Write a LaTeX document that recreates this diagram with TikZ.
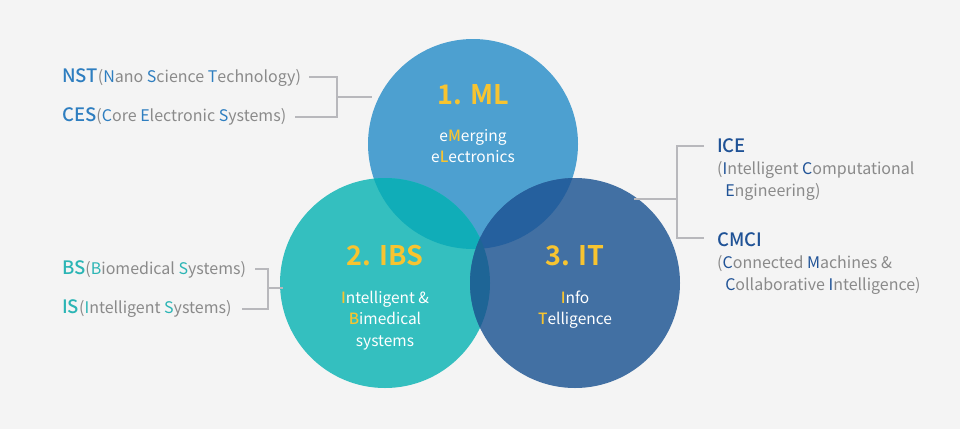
\documentclass[tikz,border=0pt]{standalone}
\usepackage{fontspec}
\setmainfont{Noto Sans CJK KR}[BoldFont={Noto Sans CJK KR Bold}]
\newfontfamily\medfont{Noto Sans CJK KR Medium}
\definecolor{bg}{HTML}{F4F4F4}
\definecolor{cML}{HTML}{4DA0D0}
\definecolor{cIBS}{HTML}{34BFBF}
\definecolor{cIT}{HTML}{4270A3}
\definecolor{cMLIBS}{HTML}{10ADB8}
\definecolor{cMLIT}{HTML}{25609E}
\definecolor{cIBSIT}{HTML}{1E6596}
\definecolor{ylw}{HTML}{F7C430}
\definecolor{gtxt}{HTML}{8A8A8A}
\definecolor{bML}{HTML}{2E7EC0}
\definecolor{bIBS}{HTML}{2BB5B5}
\definecolor{bIT}{HTML}{1F5296}
\definecolor{lnc}{HTML}{B8B8BC}
\tikzset{
  title/.style={font=\bfseries\fontsize{27}{30}\selectfont, text=ylw, anchor=base, inner sep=0pt},
  intext/.style={font=\fontsize{15.5}{18}\selectfont, text=white, anchor=base, inner sep=0pt},
  side/.style={font=\fontsize{16}{19}\selectfont, text=gtxt, anchor=base west, inner sep=0pt},
  conn/.style={draw=lnc, line width=1.6pt},
}
\newcommand{\Y}[1]{\textcolor{ylw}{\medfont #1}}
\newcommand{\abbr}[2]{\textcolor{#1}{\medfont\fontsize{18.5}{20}\selectfont #2}}
\begin{document}
\begin{tikzpicture}[x=1pt,y=-1pt]
\fill[bg] (0,0) rectangle (960,429);
\useasboundingbox (0,0) rectangle (960,429);
% circles
\coordinate (cm) at (473,144);
\coordinate (cb) at (385,283);
\coordinate (ct) at (575,283);
\fill[cML] (cm) circle (105pt);
\fill[cIBS] (cb) circle (105pt);
\fill[cIT] (ct) circle (105pt);
\begin{scope}
  \clip (cm) circle (105pt);
  \fill[cMLIBS] (cb) circle (105pt);
  \fill[cMLIT] (ct) circle (105pt);
\end{scope}
\begin{scope}
  \clip (cb) circle (105pt);
  \fill[cIBSIT] (ct) circle (105pt);
\end{scope}
% circle texts
\node[title] (t1) at (473,104) {1. ML};
\node[intext] (t1a) at (473,141) {e\Y{M}erging};
\node[intext] (t1b) at (473,162) {e\Y{L}ectronics};
\node[title] (t2) at (385,265) {2. IBS};
\node[intext] (t2a) at (385,303) {\Y{I}ntelligent \&};
\node[intext] (t2b) at (385,324) {\Y{B}imedical};
\node[intext] (t2c) at (385,346) {systems};
\node[title] (t3) at (575,265) {3. IT};
\node[intext] (t3a) at (575,303) {\Y{I}nfo};
\node[intext] (t3b) at (575,324) {\Y{T}elligence};
% left ML labels
\node[side] (nst) at (62,82) {\abbr{bML}{NST}(\textcolor{bML}{N}ano \textcolor{bML}{S}cience \textcolor{bML}{T}echnology)};
\node[side] (ces) at (62,121) {\abbr{bML}{CES}(\textcolor{bML}{C}ore \textcolor{bML}{E}lectronic \textcolor{bML}{S}ystems)};
\coordinate (nstR) at (309,77);
\coordinate (cesR) at (295,117);
\coordinate (mlJ) at (337,97);
\coordinate (mlE) at (372,97);
\draw[conn] (nstR) -- (nstR -| mlJ) -- (cesR -| mlJ) -- (cesR);
\draw[conn] (mlJ) -- (mlE);
% left IBS labels
\node[side] (bs) at (62,274) {\abbr{bIBS}{BS}(\textcolor{bIBS}{B}iomedical \textcolor{bIBS}{S}ystems)};
\node[side] (is) at (62,313) {\abbr{bIBS}{IS}(\textcolor{bIBS}{I}ntelligent \textcolor{bIBS}{S}ystems)};
\coordinate (bsR) at (255,269);
\coordinate (isR) at (242,309);
\coordinate (ibJ) at (268,288);
\coordinate (ibE) at (283,288);
\draw[conn] (bsR) -- (bsR -| ibJ) -- (isR -| ibJ) -- (isR);
\draw[conn] (ibJ) -- (ibE);
% right IT labels
\node[side] (ice) at (717,152) {\abbr{bIT}{ICE}};
\node[side] (ice2) at (717,174) {(\textcolor{bIT}{I}ntelligent \textcolor{bIT}{C}omputational};
\node[side] (ice3) at (717,196) {\phantom{(}\,\textcolor{bIT}{E}ngineering)};
\node[side] (cmci) at (717,246) {\abbr{bIT}{CMCI}};
\node[side] (cmci2) at (717,268) {(\textcolor{bIT}{C}onnected \textcolor{bIT}{M}achines \&};
\node[side] (cmci3) at (717,290) {\phantom{(}\,\textcolor{bIT}{C}ollaborative \textcolor{bIT}{I}ntelligence)};
\coordinate (iceL) at (704,146);
\coordinate (cmciL) at (704,238);
\coordinate (itJ) at (677,199);
\coordinate (itE) at (634,199);
\draw[conn] (iceL) -- (iceL -| itJ) -- (cmciL -| itJ) -- (cmciL);
\draw[conn] (itE) -- (itJ);
\end{tikzpicture}
\end{document}
